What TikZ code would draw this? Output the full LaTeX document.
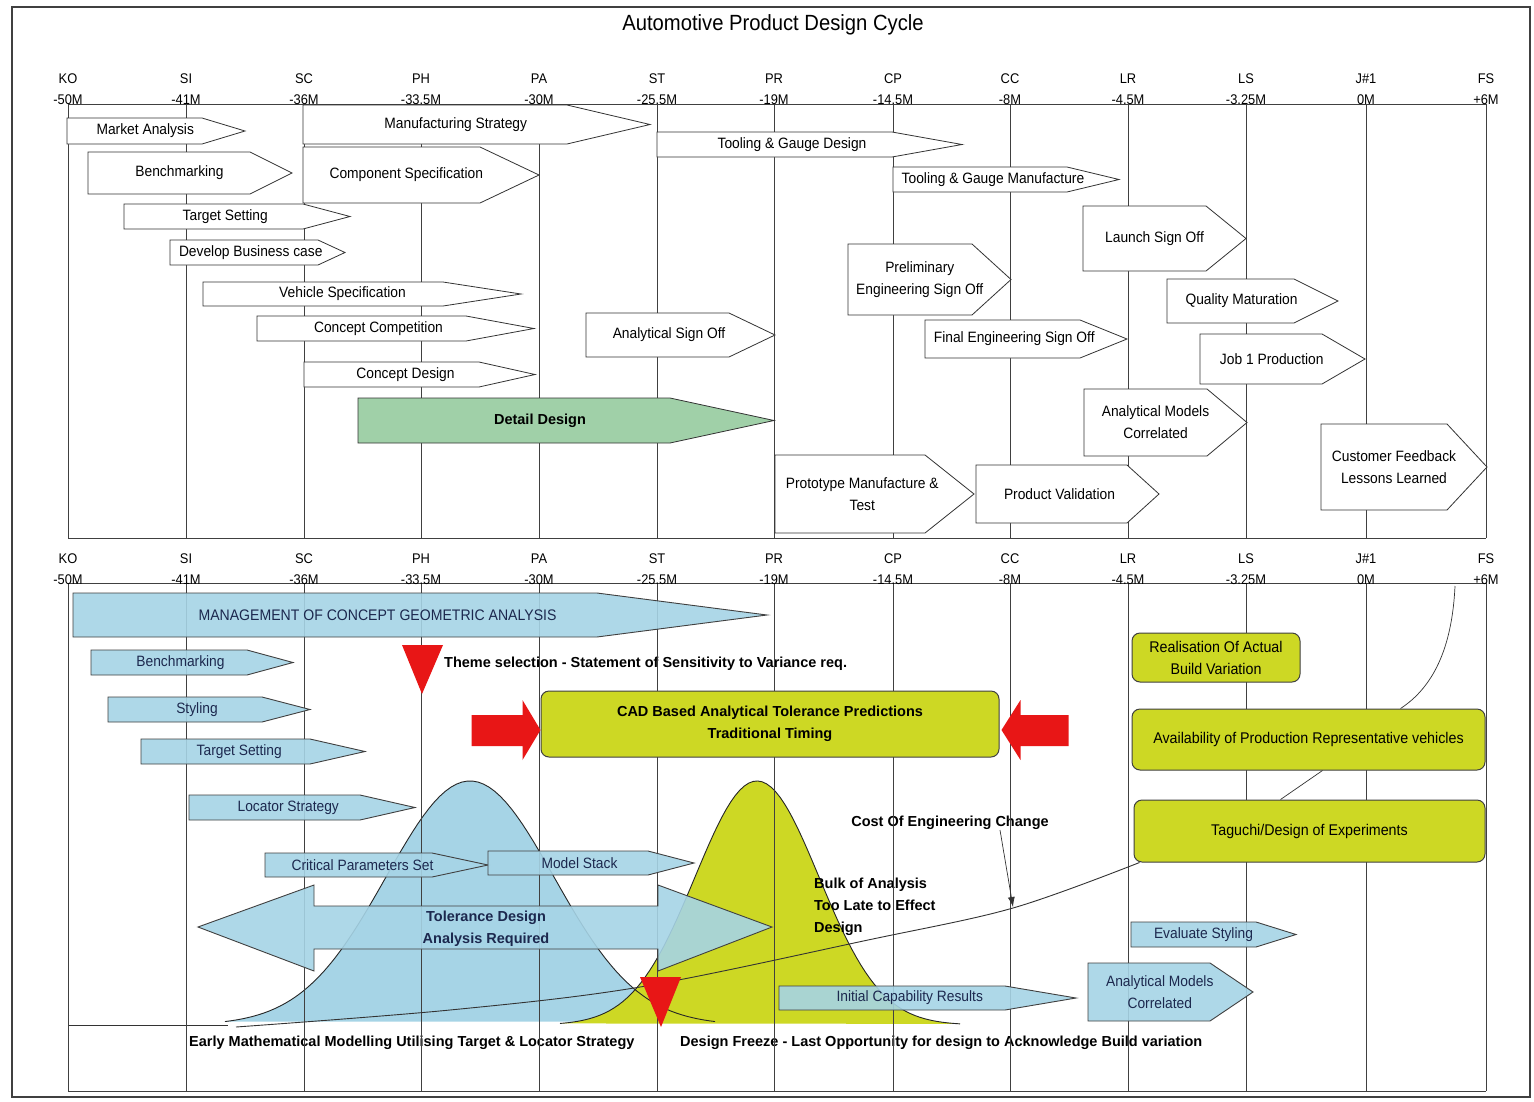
\documentclass[tikz,border=0pt]{standalone}
\usepackage{fontspec}
\setmainfont[FakeStretch=0.92]{Liberation Sans}
\newfontfamily\notefont{Liberation Sans}
\usetikzlibrary{arrows.meta, calc, backgrounds}

\definecolor{paleblue}{RGB}{166,212,230}
\definecolor{chartlime}{RGB}{205,216,36}
\definecolor{detailgreen}{RGB}{160,208,168}
\definecolor{alarmred}{RGB}{232,22,22}
\definecolor{navyink}{RGB}{28,40,78}

\tikzset{
  chevbox/.style={draw=black!80, fill=white, line width=0.8pt},
  chevbox label/.style={font=\fontsize{15}{22}\selectfont, align=center, inner sep=0pt},
  greenbox/.style={draw=black!80, fill=detailgreen, line width=0.8pt},
  greenbox label/.style={chevbox label, font=\notefont\fontsize{14.5}{22}\selectfont\bfseries},
  bluebox/.style={draw=black!75, fill=paleblue, fill opacity=0.9, line width=0.9pt},
  bluebox label/.style={chevbox label, text=navyink},
  bluebig/.style={bluebox},
  bluebig label/.style={bluebox label, font=\fontsize{15.3}{22}\selectfont},
  limebox/.style={draw=black!75, fill=chartlime, rounded corners=8pt, line width=1pt,
    align=center, inner sep=0pt, font=\fontsize{15.5}{22}\selectfont},
  boldnote/.style={font=\notefont\fontsize{14.5}{22}\selectfont\bfseries, inner sep=0pt, align=left},
  axislabel/.style={font=\fontsize{14}{16}\selectfont, anchor=base, inner sep=0pt},
  gridline/.style={draw=black!75, line width=0.7pt},
  bellline/.style={draw=black!85, line width=0.9pt},
  thinlink/.style={draw=black!80, line width=0.7pt},
  droparrow/.style={thinlink, -{Latex[length=10pt,width=7pt]}},
}

% chevron: [style]{name}{x left}{x shoulder}{x tip}{y top}{y bottom}{text}
\newcommand{\chev}[8][chevbox]{%
  \draw[#1] (#3,#6) -- (#4,#6) -- (#5,{(#6+#7)/2}) -- (#4,#7) -- (#3,#7) -- cycle;
  \path (#3,#7) coordinate (#2-sw) (#3,#6) coordinate (#2-nw);
  \node[#1 label] (#2) at ({(#3+(#4+#5)/2)/2},{(#6+#7)/2}) {#8};
}

\begin{document}
\begin{tikzpicture}[x=1pt, y=-1pt]
\useasboundingbox (0,0) rectangle (1534,1101);
\fill[white] (0,0) rectangle (1534,1101);
\draw[black!75, line width=1.2pt] (12,7) rectangle (1530,1097);
\node[font=\fontsize{22}{26}\selectfont] (title) at (773,25) {Automotive Product Design Cycle};

% upper chart: milestones
\draw[gridline] (68,104) -- (1486,104);
\draw[gridline] (68,538) -- (1486,538);
\foreach \x/\nm/\val [count=\i] in {68/KO/-50M, 186/SI/-41M, 304/SC/-36M, 421/PH/-33.5M,
    539/PA/-30M, 657/ST/-25.5M, 774/PR/-19M, 893/CP/-14.5M, 1010/CC/-8M,
    1128/LR/-4.5M, 1246/LS/-3.25M, 1366/J\#1/0M, 1486/FS/+6M}
{
  \draw[gridline] (\x,104) -- (\x,538);
  \node[axislabel] (tn\i) at (\x,83) {\nm};
  \node[axislabel] (tv\i) at (\x,104) {\val};
}

% upper chart: activities
\chev{mkt}{67}{202}{245}{118}{144}{Market Analysis}
\chev{bench}{88}{250}{292}{152}{194}{Benchmarking}
\chev{target}{124}{303}{350}{204}{229}{Target Setting}
\chev{busi}{170}{318}{345}{240}{265}{Develop Business case}
\chev{vspec}{203}{443}{521}{282}{306}{Vehicle Specification}
\chev{ccomp}{257}{466}{534}{316}{341}{Concept Competition}
\chev{cdes}{304}{479}{535}{362}{387}{Concept Design}
\chev[greenbox]{detail}{358}{670}{774}{398}{443}{Detail Design}
\chev{mfg}{303}{567}{650}{105}{144}{Manufacturing Strategy}
\chev{comp}{303}{480}{539}{147}{203}{Component Specification}
\chev{tgd}{657}{892}{962}{132}{157}{Tooling \& Gauge Design}
\chev{tgm}{893}{1067}{1119}{167}{192}{Tooling \& Gauge Manufacture}
\chev{asign}{586}{729}{775}{313}{357}{Analytical Sign Off}
\chev{prelim}{848}{972}{1011}{244}{315}{Preliminary\\Engineering Sign Off}
\chev{final}{925}{1080}{1127}{320}{358}{Final Engineering Sign Off}
\chev{launch}{1083}{1206}{1246}{206}{271}{Launch Sign Off}
\chev{quality}{1167}{1294}{1338}{279}{323}{Quality Maturation}
\chev{job}{1200}{1322}{1365}{334}{384}{Job 1 Production}
\chev{amc}{1084}{1207}{1247}{389}{456}{Analytical Models\\Correlated}
\chev{proto}{775}{925}{974}{455}{533}{Prototype Manufacture \&\\Test}
\chev{pv}{976}{1127}{1159}{465}{523}{Product Validation}
\chev{cust}{1321}{1447}{1487}{424}{510}{Customer Feedback\\Lessons Learned}

% lower chart: curves under everything
\fill[paleblue] plot[domain=225:715, samples=90] (\x,{1025-244*exp(-0.5*((\x-470)/84)^2)}) -- cycle;
\fill[chartlime] plot[domain=560:960, samples=90] (\x,{1025-244*exp(-0.5*((\x-757)/62)^2)}) -- cycle;
\draw[bellline] plot[domain=225:715, samples=90] (\x,{1025-244*exp(-0.5*((\x-470)/84)^2)});
\draw[bellline] plot[domain=560:960, samples=90] (\x,{1025-244*exp(-0.5*((\x-757)/62)^2)});
\draw[thinlink] (68,1025) -- (228,1025);

% lower chart: notes
\node[boldnote, anchor=west] (theme) at (444,664) {Theme selection - Statement of Sensitivity to Variance req.};
\node[boldnote] (costlbl) at (950,823) {Cost Of Engineering Change};
\node[boldnote, anchor=north west] (bulk) at (814,878) {Bulk of Analysis\\Too Late to Effect\\Design};
\node[boldnote, anchor=west] (early) at (189,1043) {Early Mathematical Modelling Utilising Target \& Locator Strategy};
\node[boldnote, anchor=west] (freeze) at (680,1043) {Design Freeze - Last Opportunity for design to Acknowledge Build variation};

% lower chart: milestones
\draw[gridline] (68,583) -- (1486,583);
\draw[gridline] (68,1091) -- (1486,1091);
\foreach \x/\nm/\val [count=\i] in {68/KO/-50M, 186/SI/-41M, 304/SC/-36M, 421/PH/-33.5M,
    539/PA/-30M, 657/ST/-25.5M, 774/PR/-19M, 893/CP/-14.5M, 1010/CC/-8M,
    1128/LR/-4.5M, 1246/LS/-3.25M, 1366/J\#1/0M, 1486/FS/+6M}
{
  \draw[gridline] (\x,583) -- (\x,1091);
  \node[axislabel] (bn\i) at (\x,563) {\nm};
  \node[axislabel] (bv\i) at (\x,584) {\val};
}

% lower chart: activities
\chev[bluebig]{mgmt}{73}{597}{767}{593}{637}{MANAGEMENT OF CONCEPT GEOMETRIC ANALYSIS}
\chev[bluebox]{bbench}{91}{247}{293}{650}{675}{Benchmarking}
\chev[bluebox]{styling}{108}{262}{310}{697}{722}{Styling}
\chev[bluebox]{btarget}{141}{310}{365}{739}{764}{Target Setting}
\chev[bluebox]{locator}{189}{360}{415}{795}{820}{Locator Strategy}
\chev[bluebox]{critical}{265}{432}{488}{853}{877}{Critical Parameters Set}
\chev[bluebox]{mstack}{488}{648}{694}{851}{875}{Model Stack}
\chev[bluebox]{evalst}{1131}{1256}{1296}{922}{947}{Evaluate Styling}
\chev[bluebox]{bamc}{1088}{1210}{1253}{963}{1021}{Analytical Models\\Correlated}
\chev[bluebox]{initcap}{779}{1005}{1076}{986}{1010}{Initial Capability Results}

% tolerance double arrow
\draw[bluebox] (198,927) -- (314,885) -- (314,906) -- (658,906) -- (658,885) -- (772,927)
  -- (658,971) -- (658,949) -- (314,949) -- (314,971) -- cycle;
\node[boldnote, align=center, text=navyink] (tolerance) at (486,929) {Tolerance Design\\Analysis Required};

% cost of change curve
\node[limebox, minimum width=351pt, minimum height=62pt] (tag) at (1309.5,831) {Taguchi/Design of Experiments};
\coordinate (costend) at ([xshift=6]tag.south west);
\draw[thinlink, line width=0.9pt] plot[smooth, tension=0.55] coordinates {(236,1027) (450,1010) (640,987) (868,940) (1013,908) (costend)};
\coordinate (costhit) at (1013,907);
\draw[droparrow] ([xshift=50]costlbl.south) -- (costhit);

% yellow boxes
\node[limebox, minimum width=458pt, minimum height=66pt, font=\notefont\fontsize{14.5}{22}\selectfont\bfseries] (cad) at (770,724) {CAD Based Analytical Tolerance Predictions\\Traditional Timing};
\node[limebox, minimum width=168pt, minimum height=49pt] (realise) at (1216,657.5) {Realisation Of Actual\\Build Variation};
\node[limebox, minimum width=353pt, minimum height=61pt] (avail) at (1308.5,739.5) {Availability of Production Representative vehicles};
\coordinate (fbstart) at (1455,586);
\draw[thinlink] (fbstart) .. controls (1452,650) and (1432,688) .. ([xshift=92]avail.north);
\draw[thinlink] ([xshift=14]avail.south) -- ([xshift=-29]tag.north);

% red markers
\fill[alarmred] ([yshift=-6]cad.west) -- ++(-18,-30) -- ++(0,15) -- ++(-51,0) -- ++(0,31) -- ++(51,0) -- ++(0,14) -- cycle;
\fill[alarmred] ([xshift=2,yshift=-6]cad.east) -- ++(19,-30) -- ++(0,15) -- ++(48,0) -- ++(0,31) -- ++(-48,0) -- ++(0,14) -- cycle;
\fill[alarmred] (402,645) -- (443,645) -- (422,694) -- cycle;
\fill[alarmred] (640,977) -- (681,977) -- (661,1027) -- cycle;

% link from upper chart down to correlated models
\coordinate (amcdrop) at (1087,957);
\begin{scope}[on background layer]
  \draw[droparrow] ([xshift=3]amc-sw) -- (amcdrop);
\end{scope}
\end{tikzpicture}
\end{document}
